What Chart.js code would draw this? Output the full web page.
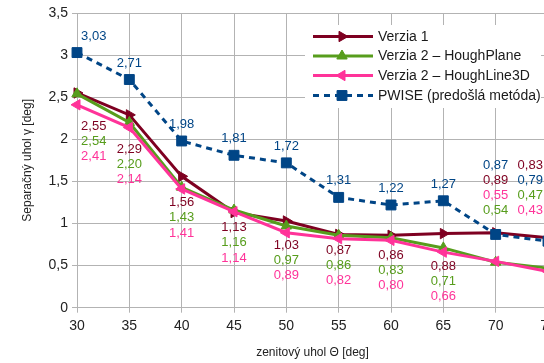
<!DOCTYPE html>
<html>
<head>
<meta charset="utf-8">
<script src="https://cdn.jsdelivr.net/npm/chart.js@4/dist/chart.umd.min.js"></script>
<style>
    html, body { margin: 0; padding: 0; background: #fff; overflow: hidden; }
    #wrap { width: 570px; height: 363px; }
</style>
</head>
<body>
<div id="wrap"><canvas id="sepChart" width="570" height="363"></canvas></div>
<script>
// zenith angles (x axis)
const angles = [30, 35, 40, 45, 50, 55, 60, 65, 70, 75];

// separation angle per method
const verzia1     = [2.55, 2.29, 1.56, 1.13, 1.03, 0.87, 0.86, 0.88, 0.89, 0.83];
const houghPlane  = [2.54, 2.20, 1.43, 1.16, 0.97, 0.86, 0.83, 0.71, 0.54, 0.47];
const houghLine3D = [2.41, 2.14, 1.41, 1.14, 0.89, 0.82, 0.80, 0.66, 0.55, 0.43];
const pwise       = [3.03, 2.71, 1.98, 1.81, 1.72, 1.31, 1.22, 1.27, 0.87, 0.79];

const seriesNames = ['Verzia 1', 'Verzia 2 – HoughPlane', 'Verzia 2 – HoughLine3D', 'PWISE (predošlá metóda)'];

// where the stacked value labels sit (axis units) and in which order
const labelX   = [31.6, 35, 40, 45, 50, 55, 60, 65, 70, 73.3];
const labelTop = [2.158, 1.879, 1.247, 0.950, 0.745, 0.685, 0.626, 0.495, 1.695, 1.695];
const labelOrder = [
    [0, 1, 2], [0, 1, 2], [0, 1, 2], [0, 1, 2], [0, 1, 2],
    [0, 1, 2], [0, 1, 2], [0, 1, 2], [3, 0, 2, 1], [0, 3, 1, 2]
];

const FONT = '"Liberation Sans", Arial, sans-serif';
const fmt = v => v.toFixed(2).replace('.', ',');
const toPoints = arr => arr.map((v, i) => ({ x: angles[i], y: v }));

// value labels
const valueLabels = {
    id: 'valueLabels',
    afterDatasetsDraw(chart) {
        const { ctx, scales: { x, y } } = chart;
        const ds = chart.data.datasets;
        ctx.save();
        ctx.font = '13px ' + FONT;
        ctx.textAlign = 'center';
        ctx.textBaseline = 'middle';
        angles.forEach((a, i) => {
            const cx = x.getPixelForValue(labelX[i]);
            let cy = y.getPixelForValue(labelTop[i]);
            labelOrder[i].forEach(d => {
                ctx.fillStyle = ds[d].borderColor;
                ctx.fillText(fmt(ds[d].data[i].y), cx, cy);
                cy += 15.2;
            });
            // PWISE label above its point when not in the stack
            if (labelOrder[i].indexOf(3) < 0) {
                const pt = chart.getDatasetMeta(3).data[i];
                ctx.fillStyle = ds[3].borderColor;
                ctx.fillText(fmt(ds[3].data[i].y), cx, pt.y - 16.5);
            }
        });
        ctx.restore();
    }
};

// legend box inside the plot
const boxLegend = {
    id: 'boxLegend',
    afterDraw(chart) {
        const { ctx } = chart;
        const ds = chart.data.datasets;
        const rows = [36.5, 56, 75.5, 95.5];
        ctx.save();
        ctx.fillStyle = '#fff';
        ctx.fillRect(305, 25, 236, 83);
        ds.forEach((d, i) => {
            const yy = rows[i];
            ctx.strokeStyle = d.borderColor;
            ctx.fillStyle = d.borderColor;
            ctx.lineWidth = d.borderWidth;
            ctx.setLineDash(d.borderDash || []);
            ctx.beginPath();
            ctx.moveTo(313, yy);
            ctx.lineTo(373, yy);
            ctx.stroke();
            ctx.setLineDash([]);
            ctx.lineWidth = 1;
            Chart.helpers.drawPoint(ctx, {
                pointStyle: d.pointStyle,
                rotation: d.pointRotation || 0,
                radius: d.pointRadius,
                borderWidth: 1
            }, 342, yy);
            ctx.fillStyle = '#1a1a1a';
            ctx.font = '14px ' + FONT;
            ctx.textAlign = 'left';
            ctx.textBaseline = 'middle';
            ctx.fillText(seriesNames[i], 378, yy + 0.5);
        });
        ctx.restore();
    }
};

function makeSeries(name, values, color, style, rotation, order, dash) {
    return {
        label: name,
        data: toPoints(values),
        borderColor: color,
        backgroundColor: color,
        borderWidth: 3,
        borderDash: dash,
        pointStyle: style,
        pointRotation: rotation,
        pointRadius: style === 'rect' ? 7 : 6,
        pointBorderWidth: 1,
        pointBackgroundColor: color,
        pointBorderColor: color,
        tension: 0,
        clip: false,
        order: order
    };
}

new Chart(document.getElementById('sepChart'), {
    type: 'line',
    data: {
        datasets: [
            makeSeries(seriesNames[0], verzia1, '#7e0021', 'triangle', 90, 4),
            makeSeries(seriesNames[1], houghPlane, '#579d1c', 'triangle', 0, 3),
            makeSeries(seriesNames[2], houghLine3D, '#ff3399', 'triangle', -90, 2),
            makeSeries(seriesNames[3], pwise, '#004586', 'rect', 0, 1, [6, 5])
        ]
    },
    options: {
        responsive: false,
        animation: false,
        events: [],
        layout: { padding: { top: 13, right: 22, left: 0, bottom: 0 } },
        plugins: { legend: { display: false }, tooltip: { enabled: false } },
        scales: {
            x: {
                type: 'linear',
                min: 30,
                max: 75,
                afterFit: s => { s.height = 55.3; },
                ticks: {
                    stepSize: 5,
                    color: '#222',
                    padding: 5,
                    font: { family: FONT, size: 14 }
                },
                grid: { color: '#b3b3b3', tickLength: 5 },
                border: { color: '#b3b3b3' },
                title: {
                    display: true,
                    text: 'zenitový uhol Θ [deg]',
                    color: '#222',
                    font: { family: FONT, size: 12 },
                    padding: { top: 0, bottom: 3 }
                }
            },
            y: {
                min: 0,
                max: 3.5,
                afterFit: s => { s.width = 77; },
                ticks: {
                    stepSize: 0.5,
                    color: '#222',
                    padding: 4,
                    font: { family: FONT, size: 14 },
                    callback: v => String(v).replace('.', ',')
                },
                grid: { color: '#b3b3b3', tickLength: 5 },
                border: { color: '#b3b3b3' },
                title: {
                    display: true,
                    text: 'Separačný uhol γ [deg]',
                    color: '#222',
                    font: { family: FONT, size: 12 },
                    padding: { top: 20, bottom: 0 }
                }
            }
        }
    },
    plugins: [valueLabels, boxLegend]
});
</script>
</body>
</html>
